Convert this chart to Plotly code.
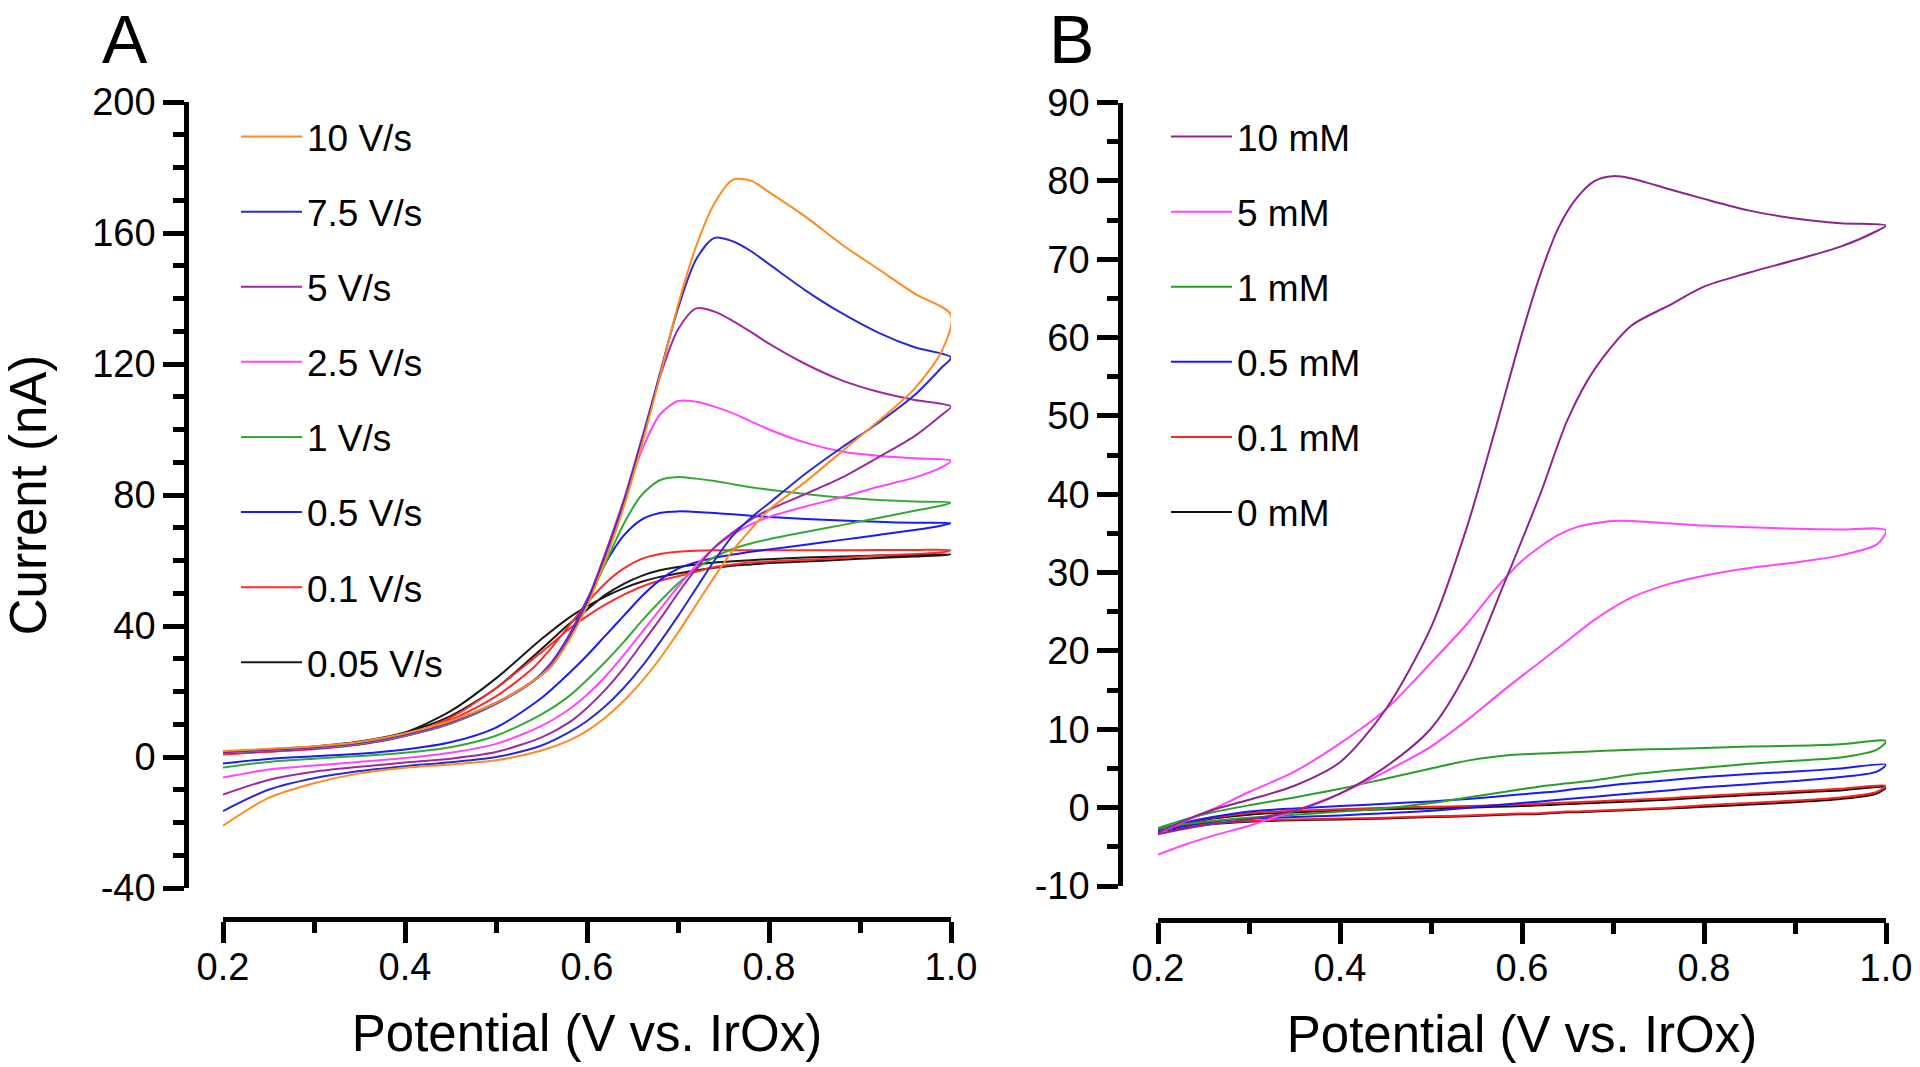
import plotly.graph_objects as go

# ---------------- Panel A : scan-rate series ----------------
E_FWD_A = [0.20, 0.25, 0.30, 0.35, 0.40, 0.45, 0.50, 0.54, 0.56, 0.58, 0.60, 0.62, 0.64,
           0.66, 0.68, 0.70, 0.72, 0.74, 0.76, 0.78, 0.80, 0.84, 0.88, 0.92, 0.96, 1.00]
E_REV_A = [0.99, 0.96, 0.92, 0.88, 0.84, 0.80, 0.78, 0.76, 0.74, 0.72, 0.70, 0.68, 0.66,
           0.64, 0.62, 0.60, 0.58, 0.55, 0.50, 0.45, 0.40, 0.35, 0.30, 0.25, 0.20]

LABELS_A = ["10 V/s", "7.5 V/s", "5 V/s", "2.5 V/s", "1 V/s", "0.5 V/s", "0.1 V/s", "0.05 V/s"]
COLORS_A = ["#FF8A22", "#2B2BD4", "#9E2A9E", "#FF45FF", "#35A935", "#1A1AFF", "#FF2A2A", "#1A1A1A"]

I_FWD_10 = [1.8, 2.5, 3.3, 4.6, 7.2, 11, 16.5, 23, 27.5, 35.5, 46, 60, 76, 95, 116, 138, 156,
            169, 176.2, 176, 172.5, 165, 156.5, 149, 141.5, 135]
I_REV_10 = [124, 112.5, 102.5, 93.3, 84, 75.5, 69.5, 63, 55, 46.5, 38, 30, 23, 17, 12, 8, 5, 2,
            -1, -2.3, -3.3, -5, -8, -12.5, -21]
I_FWD_75 = [1.6, 2.3, 3.1, 4.4, 7.0, 10.8, 16.5, 23, 27.5, 36, 47, 61, 77, 96, 117, 137, 152,
            158.5, 157.5, 154.5, 150.5, 142.5, 135.5, 129.6, 125.1, 122]
I_REV_75 = [119, 110.5, 102, 94.5, 86.5, 77.5, 73, 67.5, 60, 51.5, 43, 35, 27.5, 21, 15.5, 11,
            7.5, 3.5, 0, -1.6, -2.8, -4.3, -6.5, -10, -16.5]
I_FWD_5 = [1.5, 2.2, 3.0, 4.3, 6.8, 10.6, 16.5, 23, 28, 36.5, 47.5, 62, 78, 97, 116, 130.5,
           137, 136, 133.2, 129.8, 126.2, 120, 115, 111.5, 109, 107]
I_REV_5 = [104.5, 98, 91.5, 85.3, 80.3, 75.5, 72.5, 68.5, 64, 57.5, 50, 42, 34.5, 27, 20.5, 15,
           10.5, 6, 1.5, -0.5, -1.7, -3, -4.5, -7, -11.5]
I_FWD_25 = [1.4, 2.1, 2.9, 4.2, 6.7, 10.5, 16.5, 23, 28, 36.5, 47.5, 62, 78, 93.5, 104.5, 108.7,
            108.5, 107, 105, 102.5, 100, 96, 93.3, 92, 91.2, 90.5]
I_REV_25 = [88.5, 85.3, 82.5, 79.3, 76.5, 73.3, 71, 68, 64, 58.5, 52, 45, 38, 31, 24.5, 19, 14.5,
            9.5, 4, 1.3, -0.3, -1.5, -2.6, -3.8, -6.3]
I_FWD_1 = [1.3, 2.0, 2.8, 4.0, 6.5, 10.3, 16.3, 23, 28, 36, 47, 59, 71, 80, 84.5, 85.5, 85,
           84.3, 83.3, 82.4, 81.6, 80.3, 79.2, 78.5, 78, 77.7]
I_REV_1 = [76.8, 75.2, 73, 70.8, 68.7, 66.5, 65.2, 63.5, 61, 57.5, 53, 47.5, 41.5, 35, 29, 23.5,
           18.5, 13, 6.5, 3, 1.3, 0.3, -0.5, -1.5, -3.2]
I_FWD_05 = [1.2, 1.9, 2.7, 3.9, 6.4, 10.2, 16.2, 23, 28.5, 37, 48, 59, 67.5, 72.5, 74.5, 75,
            74.8, 74.5, 74.1, 73.7, 73.3, 72.7, 72.2, 71.8, 71.5, 71.4]
I_REV_05 = [70.7, 69.3, 67.8, 66.3, 64.8, 63.4, 62.7, 61.8, 60.8, 59.5, 57.5, 54, 49, 43, 37, 31,
            25.5, 18, 9, 4.5, 2.3, 1.0, 0.2, -0.6, -2.0]
I_FWD_01 = [1.5, 2.2, 3.0, 4.4, 7.0, 11.3, 18.5, 27, 33, 40, 47, 53, 57.5, 60.5, 62, 62.7, 63,
            63.1, 63.1, 63.1, 63.1, 63.1, 63.1, 63.2, 63.2, 63.2]
I_REV_01 = [62.5, 62, 61.5, 60.8, 60.2, 59.7, 59.4, 58.8, 58, 56.6, 55.2, 53.8, 52, 49.5, 46.5, 43,
            39, 32, 21, 12, 6.5, 3.8, 2.4, 1.6, 0.8]
I_FWD_005 = [1.5, 2.3, 3.2, 4.7, 7.5, 12.5, 21, 30.5, 35.5, 40.5, 45, 49.5, 52.8, 55.3, 57, 58,
             58.8, 59.4, 59.8, 60.1, 60.4, 60.9, 61.2, 61.5, 61.7, 61.9]
I_REV_005 = [61.6, 61.2, 60.8, 60.2, 59.7, 59.2, 58.8, 58.4, 57.8, 57, 56, 55, 53.5, 51.5, 49, 46,
             42.5, 36, 24, 14, 7.5, 4.2, 2.6, 1.7, 1.0]

FWD_A = [I_FWD_10, I_FWD_75, I_FWD_5, I_FWD_25, I_FWD_1, I_FWD_05, I_FWD_01, I_FWD_005]
REV_A = [I_REV_10, I_REV_75, I_REV_5, I_REV_25, I_REV_1, I_REV_05, I_REV_01, I_REV_005]

# ---------------- Panel B : concentration series ----------------
E_FWD_B = [0.20, 0.23, 0.26, 0.30, 0.35, 0.40, 0.45, 0.50, 0.54, 0.57, 0.60, 0.62, 0.64, 0.66,
           0.68, 0.70, 0.72, 0.76, 0.80, 0.85, 0.90, 0.95, 1.00]
E_REV_B = [0.99, 0.95, 0.90, 0.85, 0.80, 0.76, 0.72, 0.68, 0.65, 0.62, 0.58, 0.54, 0.50, 0.45,
           0.40, 0.35, 0.30, 0.26, 0.23, 0.20]

LABELS_B = ["10 mM", "5 mM", "1 mM", "0.5 mM", "0.1 mM", "0 mM"]
COLORS_B = ["#8E248E", "#FF45FF", "#2A9E2A", "#1A1AFF", "#FF2020", "#111111"]

J_FWD_10 = [-3.2, -1.6, -0.3, 1.0, 2.8, 5.8, 12.5, 23, 36, 48, 60.5, 68, 74, 77.8, 80, 80.6,
            80.3, 79, 77.7, 76.2, 75.2, 74.6, 74.3]
J_REV_10 = [73.6, 71.6, 69.9, 68.3, 66.5, 64, 61.5, 56, 49.5, 40, 28.5, 17.5, 10.1, 5.2, 1.8, -0.4,
            -1.5, -2.1, -2.7, -3.4]
J_FWD_5 = [-3.3, -1.7, -0.2, 2.0, 4.6, 8.2, 12.5, 18.5, 23.5, 27.8, 31.5, 33.3, 34.8, 35.8, 36.3,
           36.6, 36.6, 36.3, 36, 35.8, 35.6, 35.5, 35.4]
J_REV_5 = [33.6, 32.2, 31.3, 30.6, 29.6, 28.5, 26.8, 24, 21.3, 18.6, 15, 11.2, 7.8, 4.6, 1.8, -0.4,
           -2.3, -3.6, -4.7, -6.0]
J_FWD_1 = [-2.6, -1.5, -0.6, 0.3, 1.3, 2.4, 3.7, 5.0, 6.0, 6.5, 6.8, 6.9, 7.0, 7.1, 7.2, 7.3, 7.4,
           7.5, 7.6, 7.8, 7.9, 8.1, 8.5]
J_REV_1 = [7.4, 6.4, 6.0, 5.6, 5.1, 4.7, 4.2, 3.5, 3.1, 2.7, 2.0, 1.3, 0.6, -0.1, -0.5, -0.9, -1.3,
           -1.7, -2.1, -2.7]
J_FWD_05 = [-2.8, -1.9, -1.2, -0.5, -0.1, 0.2, 0.5, 0.8, 1.1, 1.4, 1.7, 1.9, 2.1, 2.4, 2.6, 2.9,
            3.1, 3.5, 3.9, 4.3, 4.6, 5.0, 5.5]
J_REV_05 = [4.6, 3.9, 3.4, 3.0, 2.6, 2.2, 1.8, 1.4, 1.1, 0.8, 0.4, 0.0, -0.4, -0.7, -1.0, -1.2,
            -1.4, -1.8, -2.3, -3.0]
J_FWD_01 = [-2.9, -2.0, -1.3, -0.7, -0.4, -0.2, 0.0, 0.1, 0.2, 0.3, 0.4, 0.5, 0.6, 0.7, 0.8, 0.9,
            1.0, 1.2, 1.5, 1.8, 2.1, 2.4, 2.8]
J_REV_01 = [2.0, 1.3, 0.9, 0.6, 0.3, 0.0, -0.2, -0.4, -0.5, -0.7, -0.8, -1.0, -1.1, -1.3, -1.4,
            -1.5, -1.7, -2.0, -2.4, -3.0]
J_FWD_0 = [-3.0, -2.1, -1.4, -0.9, -0.6, -0.4, -0.2, -0.1, 0.0, 0.1, 0.2, 0.3, 0.4, 0.5, 0.6, 0.7,
           0.8, 1.0, 1.3, 1.6, 1.9, 2.2, 2.6]
J_REV_0 = [1.8, 1.1, 0.7, 0.4, 0.1, -0.1, -0.3, -0.5, -0.6, -0.8, -0.9, -1.1, -1.2, -1.4, -1.5,
           -1.6, -1.8, -2.1, -2.5, -3.1]

FWD_B = [J_FWD_10, J_FWD_5, J_FWD_1, J_FWD_05, J_FWD_01, J_FWD_0]
REV_B = [J_REV_10, J_REV_5, J_REV_1, J_REV_05, J_REV_01, J_REV_0]

# ---------------- tick labels ----------------
X_TICKS = [0.2, 0.4, 0.6, 0.8, 1.0]
X_TICKTEXT = ["0.2", "0.4", "0.6", "0.8", "1.0"]
YA_TICKS = [-40, 0, 40, 80, 120, 160, 200]
YA_TICKTEXT = ["-40", "0", "40", "80", "120", "160", "200"]
YB_TICKS = [-10, 0, 10, 20, 30, 40, 50, 60, 70, 80, 90]
YB_TICKTEXT = ["-10", "0", "10", "20", "30", "40", "50", "60", "70", "80", "90"]

FONT = "Liberation Sans, Arial, Helvetica, sans-serif"
W, H = 1920, 1067

fig = go.Figure()

# slowest drawn first so fast scans sit on top; legend order kept via legendrank
for k in reversed(range(len(LABELS_A))):
    fig.add_trace(go.Scatter(
        x=E_FWD_A + E_REV_A, y=FWD_A[k] + REV_A[k], mode="lines", name=LABELS_A[k],
        line=dict(color=COLORS_A[k], width=2, shape="spline", smoothing=0.8),
        xaxis="x", yaxis="y", legend="legend", legendrank=k + 1, legendgroup="A%d" % k))

for k in reversed(range(len(LABELS_B))):
    fig.add_trace(go.Scatter(
        x=E_FWD_B + E_REV_B, y=FWD_B[k] + REV_B[k], mode="lines", name=LABELS_B[k],
        line=dict(color=COLORS_B[k], width=2, shape="spline", smoothing=0.8),
        xaxis="x2", yaxis="y2", legend="legend2", legendrank=k + 1, legendgroup="B%d" % k))

LW = 4.5
tickfont = dict(family=FONT, size=38, color="black")
titlefont = dict(family=FONT, size=51, color="black")


def xax(domain, pos):
    return dict(domain=domain, range=[0.2, 1.0], anchor="free", position=pos, automargin=False,
                showline=True, linewidth=LW, linecolor="black", showgrid=False, zeroline=False,
                ticks="outside", ticklen=21, tickwidth=LW, tickcolor="black",
                tickmode="array", tickvals=X_TICKS, ticktext=X_TICKTEXT, tickfont=tickfont,
                ticklabelstandoff=-8,
                minor=dict(ticks="outside", tick0=0.2, dtick=0.1, ticklen=11, tickwidth=LW,
                           tickcolor="black", showgrid=False),
                title=dict(text="Potential (V vs. IrOx)", font=titlefont, standoff=27))


def yax(domain, pos, rng, tv, tt, mdt, title):
    return dict(domain=domain, range=rng, anchor="free", position=pos, automargin=False,
                showline=True, linewidth=LW, linecolor="black", showgrid=False, zeroline=False,
                ticks="outside", ticklen=21, tickwidth=LW, tickcolor="black",
                tickmode="array", tickvals=tv, ticktext=tt, tickfont=tickfont,
                minor=dict(ticks="outside", tick0=0, dtick=mdt, ticklen=11, tickwidth=LW,
                           tickcolor="black", showgrid=False),
                title=dict(text=title, font=titlefont, standoff=29))


legend_common = dict(xanchor="left", yanchor="top", itemwidth=61, tracegroupgap=24,
                     traceorder="grouped", bgcolor="rgba(0,0,0,0)", borderwidth=0,
                     font=dict(family=FONT, size=37, color="black"))

fig.update_layout(
    template="none",
    width=W, height=H, autosize=False,
    margin=dict(l=0, r=0, t=0, b=0, pad=0),
    paper_bgcolor="white", plot_bgcolor="white",
    xaxis=xax([223 / W, 951 / W], 1 - 919 / H),
    yaxis=yax([1 - 888 / H, 1 - 102 / H], 186 / W, [-40, 200], YA_TICKS, YA_TICKTEXT, 10,
              "Current (nA)"),
    xaxis2=xax([1158 / W, 1886 / W], 1 - 920 / H),
    yaxis2=yax([1 - 886 / H, 1 - 102.5 / H], 1120 / W, [-10, 90], YB_TICKS, YB_TICKTEXT, 5, ""),
    legend=dict(x=236 / W, y=1 - 106 / H, **legend_common),
    legend2=dict(x=1166 / W, y=1 - 106 / H, **legend_common),
    showlegend=True,
    annotations=[
        dict(text="A", x=101 / W, y=1.0, xref="paper", yref="paper",
             xanchor="left", yanchor="top", showarrow=False, borderpad=0,
             font=dict(family=FONT, size=68, color="black")),
        dict(text="B", x=1048 / W, y=1.0, xref="paper", yref="paper",
             xanchor="left", yanchor="top", showarrow=False, borderpad=0,
             font=dict(family=FONT, size=68, color="black")),
    ],
)

fig.write_html("out.html", config={"displayModeBar": False},
               post_script="document.body.style.margin='0px';"
                           "document.body.style.overflow='hidden';")
